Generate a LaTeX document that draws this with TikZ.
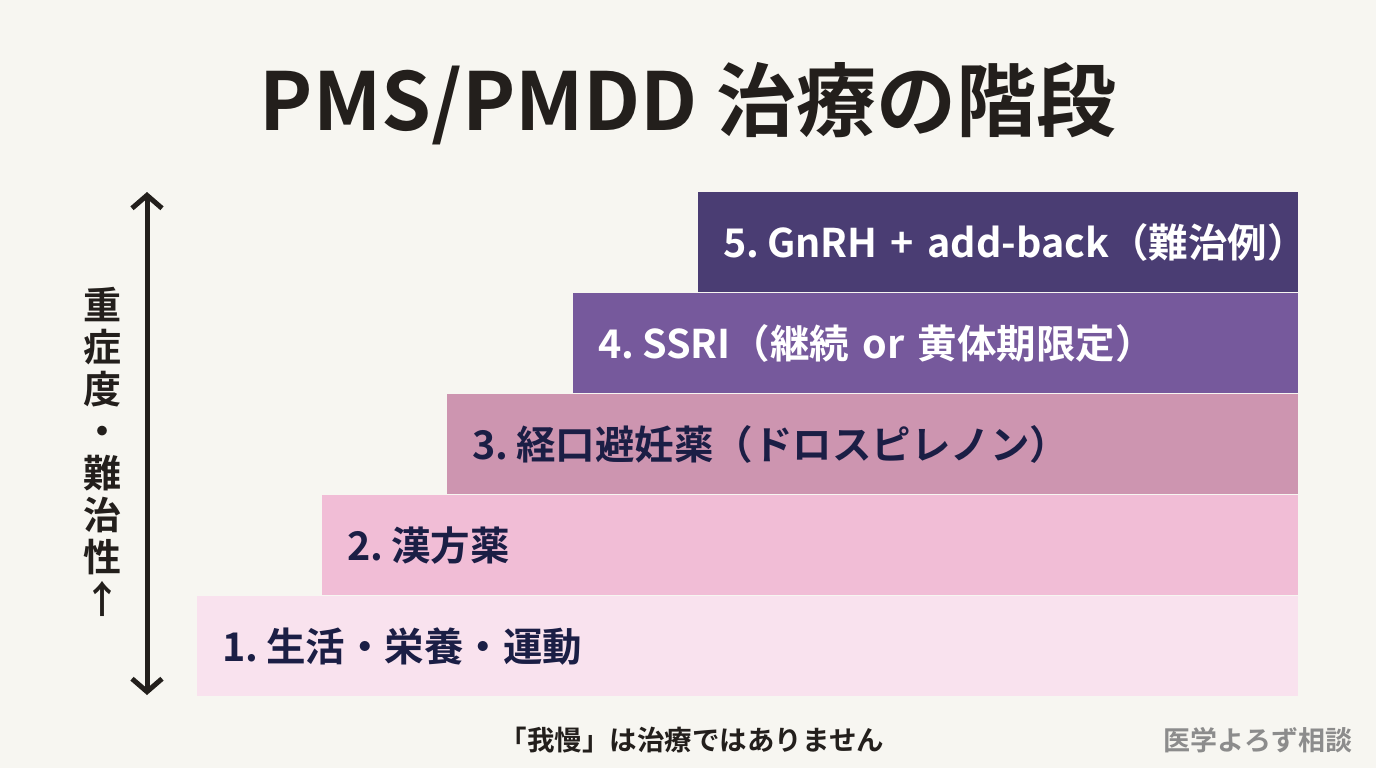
\documentclass[tikz,border=0pt]{standalone}
\usepackage{fontspec}
\setmainfont{Noto Sans CJK JP}[BoldFont={Noto Sans CJK JP Bold}]
\usetikzlibrary{arrows.meta}
\definecolor{bg}{HTML}{F7F6F1}
\definecolor{cA}{HTML}{F9E2EE}
\definecolor{cB}{HTML}{F1BDD6}
\definecolor{cC}{HTML}{CD95B0}
\definecolor{cD}{HTML}{76599C}
\definecolor{cE}{HTML}{4A3D73}
\definecolor{navy}{HTML}{1B1E45}
\definecolor{ink}{HTML}{231F1C}
\definecolor{wm}{HTML}{8C8C8C}
\newcommand{\gp}{\hspace{0.2em}}
\tikzset{
  stepbox/.style={anchor=north west, minimum height=100pt, inner xsep=25pt, inner ysep=0pt, align=left, font=\bfseries\fontsize{39.5}{44}\selectfont},
}
\begin{document}
\begin{tikzpicture}[x=1pt,y=-1pt]
\fill[bg] (0,0) rectangle (1376,768);
\useasboundingbox (0,0) rectangle (1376,768);
\node[font=\bfseries\fontsize{80}{90}\selectfont, text=ink] (title) at (688,104) {PMS/PMDD 治療の階段};
\node[stepbox, fill=cA, text=navy, text width=1051pt] (s1) at (197,596) {\mbox{1.\gp{}生活・栄養・運動}};
\node[stepbox, fill=cB, text=navy, text width=926pt] (s2) at (322,495) {\mbox{2.\gp{}漢方薬}};
\node[stepbox, fill=cC, text=navy, text width=801pt] (s3) at (447,394) {\mbox{3.\gp{}経口避妊薬（ドロスピレノン）}};
\node[stepbox, fill=cD, text=white, text width=675pt] (s4) at (573,293) {\mbox{4.\gp{}SSRI（継続 or 黄体期限定）}};
\node[stepbox, fill=cE, text=white, text width=550pt] (s5) at (698,192) {\mbox{5.\gp{}GnRH + add-back（難治例）}};
\coordinate (atop) at (147,192);
\coordinate (abot) at (147,695);
\draw[ink, line width=5pt, {Straight Barb[length=13pt,width=30pt]}-{Straight Barb[length=13pt,width=30pt]}] (atop) -- (abot);
\node[font=\bfseries\fontsize{38}{42}\selectfont, text=ink, align=center] (vlab) at (102,452) {重\\症\\度\\・\\難\\治\\性\\↑};
\node[font=\bfseries\fontsize{27.5}{30}\selectfont, text=ink] (note) at (692,740) {「我慢」は治療ではありません};
\node[font=\bfseries\fontsize{27}{30}\selectfont, text=wm, anchor=east] (brand) at (1356,740) {医学よろず相談};
\end{tikzpicture}
\end{document}
